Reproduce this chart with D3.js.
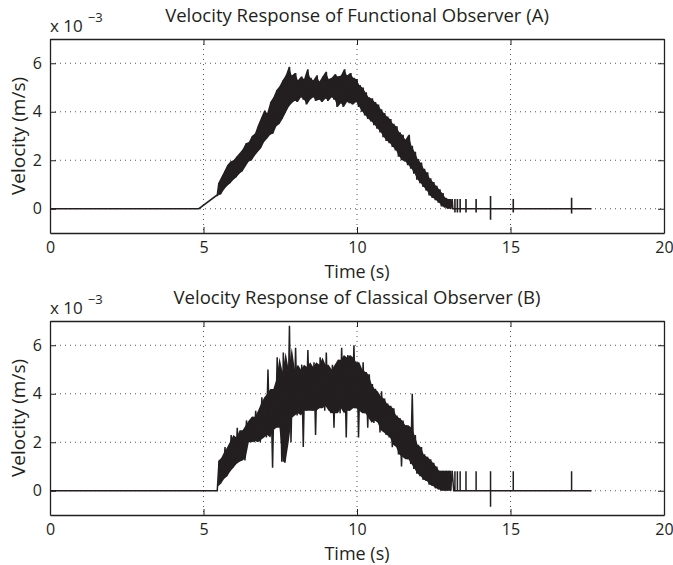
<!DOCTYPE html>
<html>
<head>
<meta charset="utf-8">
<script src="https://cdn.jsdelivr.net/npm/d3@7"></script>
<style>
  body { margin: 0; background: #fff; }
  svg text { font-family: "Open Sans", "Noto Sans", sans-serif; fill: #231f20; }
</style>
</head>
<body>
<div id="chart"></div>
<script>
var width = 673,
    height = 565;

// axis ticks
var xTicks = [0, 5, 10, 15, 20];
var yTicks = [0, 2, 4, 6];
var titles = ["Velocity Response of Functional Observer (A)",
              "Velocity Response of Classical Observer (B)"];

// samples of the noisy part are 0.05 s apart
var bandStep = 0.05;

// (A) functional observer, velocity in 1e-3 m/s
var topLeadT = [0, 4.85, 5.43];
var topLeadV = [0, 0, 0.55];
var topBandStart = 5.45;
var topBand = [
  0.55, 1.05, 0.6, 1.3, 0.8, 1.55, 0.95, 1.8, 1.05, 1.95,
  1.2, 2.0, 1.3, 2.15, 1.45, 2.3, 1.55, 2.45, 1.75, 2.7,
  1.95, 2.75, 2.0, 3.0, 2.2, 3.1, 2.35, 3.45, 2.5, 3.75,
  2.75, 4.05, 2.9, 3.95, 3.05, 4.4, 3.1, 4.6, 3.4, 4.9,
  3.5, 5.05, 3.7, 5.3, 3.95, 5.5, 4.2, 5.85, 4.35, 5.5,
  4.45, 5.6, 4.4, 5.3, 4.6, 5.45, 4.5, 5.35, 4.3, 5.75,
  4.5, 5.4, 4.6, 5.3, 4.45, 5.5, 4.5, 5.25, 4.4, 5.45,
  4.55, 5.65, 4.45, 5.35, 4.6, 5.4, 4.5, 5.55, 4.2, 5.45,
  4.35, 5.5, 4.2, 5.75, 4.4, 5.5, 4.35, 5.6, 4.3, 5.4,
  4.4, 5.35, 4.2, 5.1, 4.0, 5.0, 3.85, 4.8, 3.7, 4.6,
  3.6, 4.55, 3.45, 4.4, 3.3, 4.3, 3.15, 4.1, 2.95, 3.95,
  2.8, 3.8, 2.7, 3.7, 2.55, 3.5, 2.4, 3.4, 2.15, 3.15,
  2.0, 3.05, 1.95, 2.85, 1.8, 3.05, 1.65, 2.6, 1.45, 2.35,
  1.2, 2.05, 1.05, 1.9, 0.9, 1.65, 0.75, 1.5, 0.55, 1.25,
  0.45, 1.1, 0.35, 0.95, 0.25, 0.8, 0.1, 0.65, 0.05, 0.45,
  0.0, 0.4, 0.0, 0.4
];
var spikeT = [13.19, 13.27, 13.36, 13.55, 13.88, 14.35, 15.09, 16.99];
var topSpikeHi = [0.4, 0.4, 0.4, 0.4, 0.4, 0.53, 0.4, 0.45];
var topSpikeLo = [-0.15, -0.15, -0.15, -0.15, -0.15, -0.45, -0.15, -0.2];
var tailEnd = 17.64;

// (B) classical observer
var botLeadT = [0, 5.45];
var botLeadV = [0, 0];
var botBandStart = 5.45;
var botBand = [
  0.05, 1.1, 0.3, 1.35, 0.5, 1.8, 0.6, 1.6, 0.8, 2.3,
  0.95, 2.05, 1.1, 2.6, 1.2, 2.2, 1.35, 2.5, 1.25, 2.9,
  2.0, 2.7, 2.05, 3.05, 2.0, 3.3, 2.1, 3.05, 2.0, 3.85,
  2.3, 3.6, 2.2, 5.0, 2.5, 4.0, 0.95, 4.2, 2.6, 5.5,
  2.7, 4.6, 1.2, 5.7, 1.15, 4.9, 3.0, 6.8, 2.0, 5.0,
  3.2, 5.9, 3.1, 4.8, 3.4, 5.2, 1.8, 5.0, 3.3, 5.8,
  3.5, 5.1, 3.3, 5.3, 2.3, 4.9, 3.4, 5.5, 3.6, 5.2,
  3.3, 5.7, 3.5, 4.8, 3.2, 5.2, 2.6, 5.0, 3.4, 5.4,
  3.2, 5.9, 3.4, 5.2, 2.2, 5.6, 3.3, 5.5, 3.5, 6.0,
  3.4, 5.3, 2.2, 5.0, 3.3, 5.3, 3.2, 4.9, 2.6, 4.8,
  3.0, 4.4, 2.8, 4.2, 2.9, 3.9, 2.4, 4.1, 2.5, 3.8,
  2.3, 3.6, 2.2, 3.5, 1.8, 3.4, 1.9, 3.1, 1.5, 3.0,
  1.0, 2.9, 1.4, 2.7, 1.3, 2.6, 1.1, 4.0, 0.9, 2.3,
  0.7, 1.9, 0.6, 1.8, 0.45, 1.5, 0.4, 1.4, 0.25, 1.3,
  0.2, 1.15, 0.1, 1.0, 0.05, 0.82, 0.0, 0.82, 0.0, 0.82,
  0.0, 0.82, 0.0, 0.82, 0.0
];
var botSpikeHi = [0.8, 0.8, 0.8, 0.8, 0.8, 0.8, 0.8, 0.8];
var botSpikeLo = [0, 0, 0, 0, 0, -0.66, 0, 0];

var svg = d3.select("#chart")
  .append("svg")
    .attr("width", width)
    .attr("height", height);

function buildPoints(leadT, leadV, bandStart, band, hi, lo) {
  var pts = leadT.map(function(t, i) { return [t, leadV[i]]; });
  band.forEach(function(v, i) { pts.push([bandStart + i * bandStep, v]); });
  var last = bandStart + (band.length - 1) * bandStep;
  pts.push([last + 0.02, 0]);
  spikeT.forEach(function(t, i) {
    pts.push([t, 0], [t, hi[i]], [t, lo[i]], [t, 0]);
  });
  pts.push([tailEnd, 0]);
  return pts;
}

// pairs of neighbouring samples give the filled core of a dense band;
// with robust=true single spikes are left out of the core (median of 3 pairs)
function bandPairs(bandStart, band, robust) {
  var out = [];
  for (var i = 0; i + 1 < band.length; i += 2) {
    out.push({t: bandStart + (i + 0.5) * bandStep,
              lo: Math.min(band[i], band[i + 1]),
              hi: Math.max(band[i], band[i + 1])});
  }
  if (!robust) return out;
  return out.map(function(d, k) {
    var nb = out.slice(Math.max(0, k - 1), k + 2);
    return {t: d.t,
            lo: d3.median(nb, function(e) { return e.lo; }),
            hi: d3.median(nb, function(e) { return e.hi; })};
  });
}

function drawPanel(top, bottom, title, pts, lineW, core) {
  var x = d3.scaleLinear().domain([0, 20]).range([50, 664]);
  var y = d3.scaleLinear().domain([-1, 7]).range([bottom, top]);
  var g = svg.append("g");

  // grid
  g.selectAll(".gx").data(xTicks.slice(1, -1)).enter().append("line")
    .attr("x1", function(d) { return x(d); }).attr("x2", function(d) { return x(d); })
    .attr("y1", top).attr("y2", bottom)
    .attr("stroke", "#555").attr("stroke-dasharray", "1,4").attr("stroke-width", 1);
  g.selectAll(".gy").data(yTicks).enter().append("line")
    .attr("x1", 50).attr("x2", 664)
    .attr("y1", function(d) { return y(d); }).attr("y2", function(d) { return y(d); })
    .attr("stroke", "#555").attr("stroke-dasharray", "1,4").attr("stroke-width", 1);

  g.append("path")
    .datum(core)
    .attr("fill", "#231f20")
    .attr("d", d3.area()
      .x(function(d) { return x(d.t); })
      .y0(function(d) { return y(d.lo); })
      .y1(function(d) { return y(d.hi); }));

  // signal
  g.append("path")
    .datum(pts)
    .attr("fill", "none")
    .attr("stroke", "#231f20")
    .attr("stroke-width", lineW)
    .attr("d", d3.line().x(function(d) { return x(d[0]); }).y(function(d) { return y(d[1]); }));

  // axes with inward ticks and a box
  var xb = g.append("g").attr("transform", "translate(0," + bottom + ")")
    .call(d3.axisBottom(x).tickValues(xTicks).tickSizeInner(-6).tickSizeOuter(0).tickPadding(9));
  var xt = g.append("g").attr("transform", "translate(0," + top + ")")
    .call(d3.axisTop(x).tickValues(xTicks).tickSizeInner(-6).tickSizeOuter(0).tickFormat(""));
  var yl = g.append("g").attr("transform", "translate(50,0)")
    .call(d3.axisLeft(y).tickValues(yTicks).tickSizeInner(-6).tickSizeOuter(0).tickPadding(8));
  var yr = g.append("g").attr("transform", "translate(664,0)")
    .call(d3.axisRight(y).tickValues(yTicks).tickSizeInner(-6).tickSizeOuter(0).tickFormat(""));
  [xb, xt, yl, yr].forEach(function(a) {
    a.select(".domain").attr("stroke", "#231f20").attr("stroke-width", 1.3);
    a.selectAll(".tick line").attr("stroke", "#231f20");
    a.selectAll("text").attr("font-size", 16).attr("font-family", null).attr("fill", "#231f20");
  });

  g.append("text").attr("x", 357).attr("y", top - 17)
    .attr("text-anchor", "middle").attr("font-size", 18.5).text(title);
  var ex = g.append("text").attr("x", 50).attr("y", top - 7).attr("font-size", 17);
  ex.append("tspan").text("x 10");
  ex.append("tspan").attr("dx", 5).attr("dy", -10).attr("font-size", 13).text("\u22123");
  g.append("text").attr("x", 357).attr("y", bottom + 45)
    .attr("text-anchor", "middle").attr("font-size", 18).text("Time (s)");
  g.append("text")
    .attr("transform", "translate(25," + (top + bottom) / 2 + ") rotate(-90)")
    .attr("text-anchor", "middle").attr("font-size", 19).text("Velocity (m/s)");
}

drawPanel(39, 233, titles[0],
  buildPoints(topLeadT, topLeadV, topBandStart, topBand, topSpikeHi, topSpikeLo), 1.6,
  bandPairs(topBandStart, topBand, false));
drawPanel(321, 515, titles[1],
  buildPoints(botLeadT, botLeadV, botBandStart, botBand, botSpikeHi, botSpikeLo), 1.5,
  bandPairs(botBandStart, botBand, true));
</script>
</body>
</html>
